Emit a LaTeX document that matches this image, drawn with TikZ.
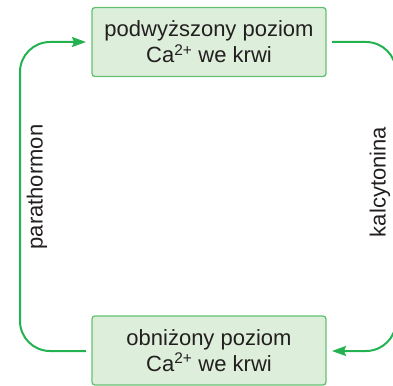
\documentclass[tikz,border=0pt]{standalone}
\usepackage{fontspec}
\setmainfont{Liberation Sans}
\usetikzlibrary{arrows.meta}
\definecolor{lgreen}{RGB}{36,178,80}
\definecolor{bfill}{RGB}{221,238,219}
\definecolor{bdraw}{RGB}{100,192,112}
\definecolor{txt}{RGB}{35,31,32}
\begin{document}
\begin{tikzpicture}[x=1pt,y=-1pt,
  levelbox/.style={draw=bdraw,fill=bfill,line width=1.3pt,rounded corners=3pt,
    minimum width=234pt,minimum height=69pt,align=center,text=txt,
    font=\fontsize{22}{26}\selectfont,inner sep=0pt},
  conn/.style={draw=lgreen,line width=2pt,rounded corners=30pt},
  tip/.style={-{Stealth[length=14pt,width=10pt,inset=2pt]}},
  lbl/.style={text=txt,font=\fontsize{22}{26}\selectfont,rotate=90,inner sep=0pt}]
\useasboundingbox (0,0) rectangle (393,385);
\clip (0,0) rectangle (393,385);
\node[levelbox] (hi) at (209,42) {podwyższony poziom\\Ca\textsuperscript{2+} we krwi};
\node[levelbox] (lo) at (209,350.5) {obniżony poziom\\Ca\textsuperscript{2+} we krwi};
\coordinate (hiL) at (86,42);
\coordinate (loL) at (86,351);
\coordinate (hiR) at (332,42);
\coordinate (loR) at (332,351);
\draw[conn,tip] (loL) -- (20,351) -- (20,42) -- (hiL);
\draw[conn,tip] (hiR) -- (396,42) -- (396,351) -- (loR);
\node[lbl] (pth) at (37,187) {parathormon};
\node[lbl] (kal) at (380,182) {kalcytonina};
\end{tikzpicture}
\end{document}
